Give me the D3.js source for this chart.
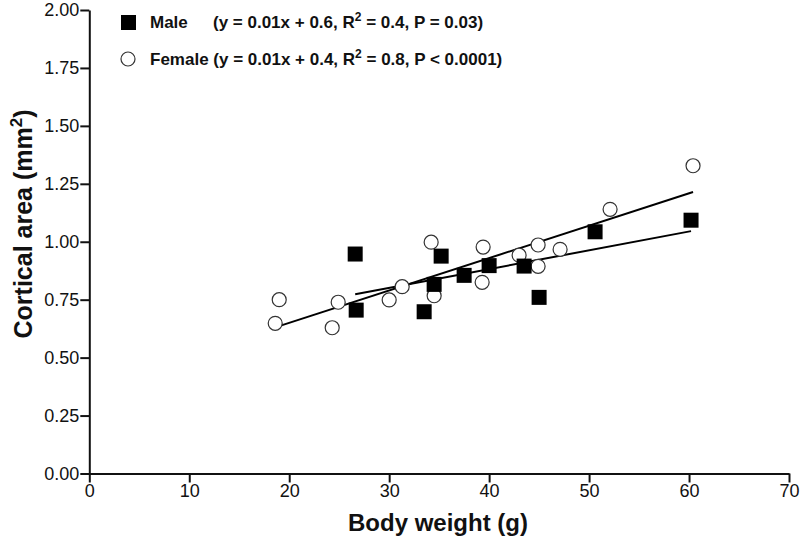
<!DOCTYPE html>
<html>
<head>
<meta charset="utf-8">
<script src="https://cdn.jsdelivr.net/npm/d3@7"></script>
<style>
  body { margin: 0; background: #fff; }
  svg { display: block; font-family: "Liberation Sans", Arial, sans-serif; }
</style>
</head>
<body>
<div id="chart"></div>
<script>
'use strict'

// body weight (g) and cortical area (mm2)
const maleX = [26.6, 26.7, 33.5, 34.5, 35.2, 37.5, 40.0, 43.5, 45.0, 50.6, 60.2];
const maleY = [0.947, 0.705, 0.698, 0.816, 0.938, 0.855, 0.897, 0.895, 0.760, 1.043, 1.093];
const femaleX = [18.6, 19.0, 24.3, 24.9, 30.0, 31.3, 34.2, 34.5, 39.3, 39.4, 43.0, 44.9, 44.9, 47.1, 52.1, 60.4];
const femaleY = [0.648, 0.750, 0.629, 0.739, 0.749, 0.806, 0.998, 0.767, 0.825, 0.977, 0.942, 0.894, 0.986, 0.967, 1.140, 1.328];
const xTicks = [0, 10, 20, 30, 40, 50, 60, 70];
const yTicks = [0, 0.25, 0.5, 0.75, 1, 1.25, 1.5, 1.75, 2];

const width = 800, height = 547;

const x = d3.scaleLinear().domain([0, 70]).range([89.3, 789]);
const y = d3.scaleLinear().domain([0, 2]).range([473.5, 10]);

const svg = d3.select('#chart').append('svg')
    .attr('width', width)
    .attr('height', height);

// least squares fit, drawn over the range of the data
const fit = function(xs, ys) {
    const mx = d3.mean(xs), my = d3.mean(ys);
    let sxy = 0, sxx = 0;
    xs.forEach((v, i) => { sxy += (v - mx) * (ys[i] - my); sxx += (v - mx) * (v - mx); });
    const slope = sxy / sxx, icpt = my - slope * mx;
    const ext = d3.extent(xs);
    return ext.map(v => [v, icpt + slope * v]);
};

const xAxis = svg.append('g')
    .attr('transform', `translate(0,${y(0)})`)
    .call(d3.axisBottom(x).tickValues(xTicks).tickSize(9).tickSizeOuter(0).tickPadding(2));

const yAxis = svg.append('g')
    .attr('transform', `translate(${x(0)},0)`)
    .call(d3.axisLeft(y).tickValues(yTicks).tickFormat(d3.format('.2f')).tickSize(9).tickSizeOuter(0).tickPadding(1));

[xAxis, yAxis].forEach(a => {
    a.selectAll('path, line').attr('stroke', '#111').attr('stroke-width', 2);
    a.selectAll('text').attr('fill', '#111').style('font-size', '18px');
});

const line = d3.line().x(d => x(d[0])).y(d => y(d[1]));

svg.append('path')
    .attr('d', line(fit(femaleX, femaleY)))
    .attr('fill', 'none').attr('stroke', '#000').attr('stroke-width', 2);
svg.append('path')
    .attr('d', line(fit(maleX, maleY)))
    .attr('fill', 'none').attr('stroke', '#000').attr('stroke-width', 2);

svg.selectAll('.female')
    .data(femaleX.map((v, i) => [v, femaleY[i]]))
    .enter().append('circle')
    .attr('class', 'female')
    .attr('cx', d => x(d[0]))
    .attr('cy', d => y(d[1]))
    .attr('r', 7)
    .attr('fill', '#fff')
    .attr('stroke', '#333')
    .attr('stroke-width', 1.2);

svg.selectAll('.male')
    .data(maleX.map((v, i) => [v, maleY[i]]))
    .enter().append('rect')
    .attr('class', 'male')
    .attr('x', d => x(d[0]) - 7.5)
    .attr('y', d => y(d[1]) - 7.5)
    .attr('width', 15)
    .attr('height', 15)
    .attr('fill', '#000');

// axis titles
svg.append('text')
    .attr('x', 438).attr('y', 531)
    .attr('text-anchor', 'middle')
    .style('font-size', '24px').style('font-weight', 'bold')
    .attr('fill', '#111')
    .text('Body weight (g)');

const yt = svg.append('text')
    .attr('transform', 'translate(32,224) rotate(-90)')
    .attr('text-anchor', 'middle')
    .style('font-size', '25px').style('font-weight', 'bold')
    .attr('fill', '#111');
yt.append('tspan').text('Cortical area (mm');
yt.append('tspan').attr('dy', -10).style('font-size', '17px').text('2');
yt.append('tspan').attr('dy', 10).text(')');

// legend
const lg = svg.append('g').style('font-size', '17px').style('font-weight', 'bold').attr('fill', '#111');
lg.append('rect').attr('x', 121).attr('y', 15).attr('width', 15).attr('height', 15).attr('fill', '#000');
lg.append('circle').attr('cx', 128).attr('cy', 59).attr('r', 7)
    .attr('fill', '#fff').attr('stroke', '#333').attr('stroke-width', 1.2);

const addEq = function(xp, yp, pre, post) {
    const t = lg.append('text').attr('x', xp).attr('y', yp);
    t.append('tspan').text(pre);
    t.append('tspan').attr('dy', -7).style('font-size', '12px').text('2');
    t.append('tspan').attr('dy', 7).text(post);
};
lg.append('text').attr('x', 150).attr('y', 28).text('Male');
addEq(213, 28, '(y = 0.01x + 0.6, R', ' = 0.4, P = 0.03)');
addEq(150, 65, 'Female (y = 0.01x + 0.4, R', ' = 0.8, P < 0.0001)');
</script>
</body>
</html>
